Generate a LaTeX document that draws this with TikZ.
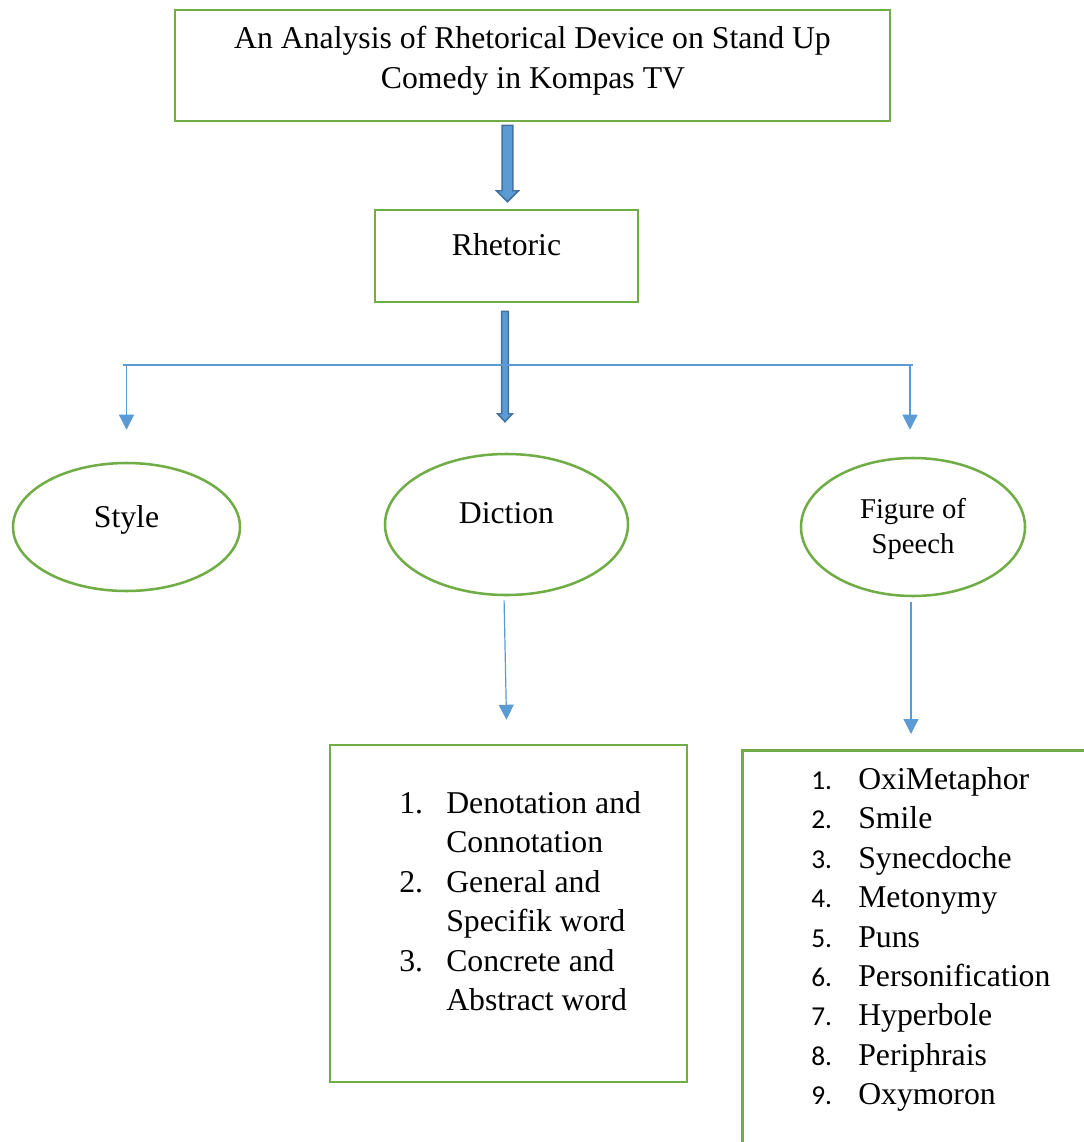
\documentclass[tikz,border=0pt]{standalone}
\usepackage{fontspec}
\setmainfont{Liberation Serif}
\newfontfamily\calibfont{Carlito}
\usetikzlibrary{arrows.meta,shapes.geometric,calc}
\definecolor{boxgreen}{HTML}{70AD47}
\definecolor{linkblue}{HTML}{5B9BD5}
\definecolor{fatedge}{HTML}{41719C}
\begin{document}
\begin{tikzpicture}[x=0.75pt,y=-0.75pt,
  gbox/.style={draw=boxgreen, line width=1.9pt, rectangle, inner sep=0pt},
  goval/.style={draw=boxgreen, line width=1.9pt, ellipse, inner sep=0pt},
  maintxt/.style={font=\fontsize{23.8pt}{29.6pt}\selectfont, inner sep=0pt},
  figtxt/.style={font=\fontsize{21.5pt}{26pt}\selectfont, inner sep=0pt},
  numtxt/.style={font=\calibfont\fontsize{20.5pt}{24pt}\selectfont, inner sep=0pt},
  link/.style={draw=linkblue, line width=0.9pt},
  linkarrow/.style={link, -{Triangle[width=11.25pt,length=11.25pt]}},
  fatarrow/.style args={#1/#2/#3}{draw=fatedge, fill=linkblue, line width=1.1pt, line join=miter,
     to path={let \p1=(\tikztostart), \p2=(\tikztotarget) in
       (\x1-#1,\y1) -- (\x1+#1,\y1) -- (\x1+#1,\y2+#3) -- (\x1+#2,\y2+#3) -- (\x1,\y2)
       -- (\x1-#2,\y2+#3) -- (\x1-#1,\y2+#3) -- cycle}}
]
\useasboundingbox (0,0) rectangle (1084,1142);

% boxes and ellipses
\node[gbox, minimum width=536.25pt, minimum height=83.25pt] (title) at (532.5,65.5) {};
\node[maintxt, anchor=base] (title1) at (532.5,48) {An Analysis of Rhetorical Device on Stand Up};
\node[maintxt, anchor=base] (title2) at (533,88) {Comedy in Kompas TV};

\node[gbox, maintxt, minimum width=197.25pt, minimum height=69pt, text height=11pt, text depth=12.5pt] (rhet) at (506.5,256) {Rhetoric};

\node[goval, maintxt, minimum width=170.25pt, minimum height=96pt, text height=12pt, text depth=12pt] (sty) at (126.5,527) {Style};
\node[goval, maintxt, minimum width=182.25pt, minimum height=105.75pt, text height=11pt, text depth=13.25pt] (dic) at (506.5,524.5) {Diction};
\node[goval, minimum width=168pt, minimum height=103.5pt] (fig) at (913,527) {};
\node[figtxt, anchor=base] (fig1) at (913,518) {Figure of};
\node[figtxt, anchor=base] (fig2) at (913,553) {Speech};

\node[gbox, minimum width=267.75pt, minimum height=252.75pt] (dbox) at (508.5,913.5) {};
\node[gbox, anchor=north west, minimum width=300pt, minimum height=337.5pt] (fbox) at (741,749) {};

% diction list
\node[maintxt, anchor=base west] (dn1) at (399,813) {1.};
\node[maintxt, anchor=base west] (dn2) at (399,892) {2.};
\node[maintxt, anchor=base west] (dn3) at (399,971) {3.};
\foreach \t [count=\i] in {Denotation and, Connotation, General and, Specifik word, Concrete and, Abstract word}
  \node[maintxt, anchor=base west] (dl\i) at (446,{813+39.5*(\i-1)}) {\t};

% figure of speech list
\foreach \t [count=\i] in {OxiMetaphor, Smile, Synecdoche, Metonymy, Puns, Personification, Hyperbole, Periphrais, Oxymoron}{
  \node[numtxt, anchor=base west] (fn\i) at (811,{789.5+39.4*(\i-1)}) {\i.};
  \node[maintxt, anchor=base west] (fl\i) at (858,{789.5+39.4*(\i-1)}) {\t};
}

% thick arrows
\draw[fatarrow=4.1pt/8.25pt/8.25pt] ($(title.south -| rhet.north)+(1,3)$) to ($(rhet.north)+(1,-7)$);
\draw[fatarrow=2.6pt/5.6pt/6pt] ($(rhet.south)+(-1.5,8)$) to ($(dic.north)+(-1.5,-31)$);

% thin bus and arrows
\coordinate (busL) at (123,365);
\coordinate (busR) at (913,365);
\draw[link] (busL) -- (busR);
\draw[linkarrow, shorten >=24pt] (sty.north |- busL) -- (sty.north);
\coordinate (figtop) at ($(fig.north)+(-3,0)$);
\draw[linkarrow, shorten >=20.25pt] (figtop |- busR) -- (figtop);

\draw[linkarrow, shorten <=3pt, shorten >=18pt] ($(dic.south)+(-2.5,0)$) -- ($(dbox.north)+(-1.5,0)$);
\coordinate (figbot) at ($(fig.south)+(-2,0)$);
\draw[linkarrow, shorten <=3.75pt, shorten >=11.25pt] (figbot) -- (figbot |- fbox.north);
\end{tikzpicture}
\end{document}
